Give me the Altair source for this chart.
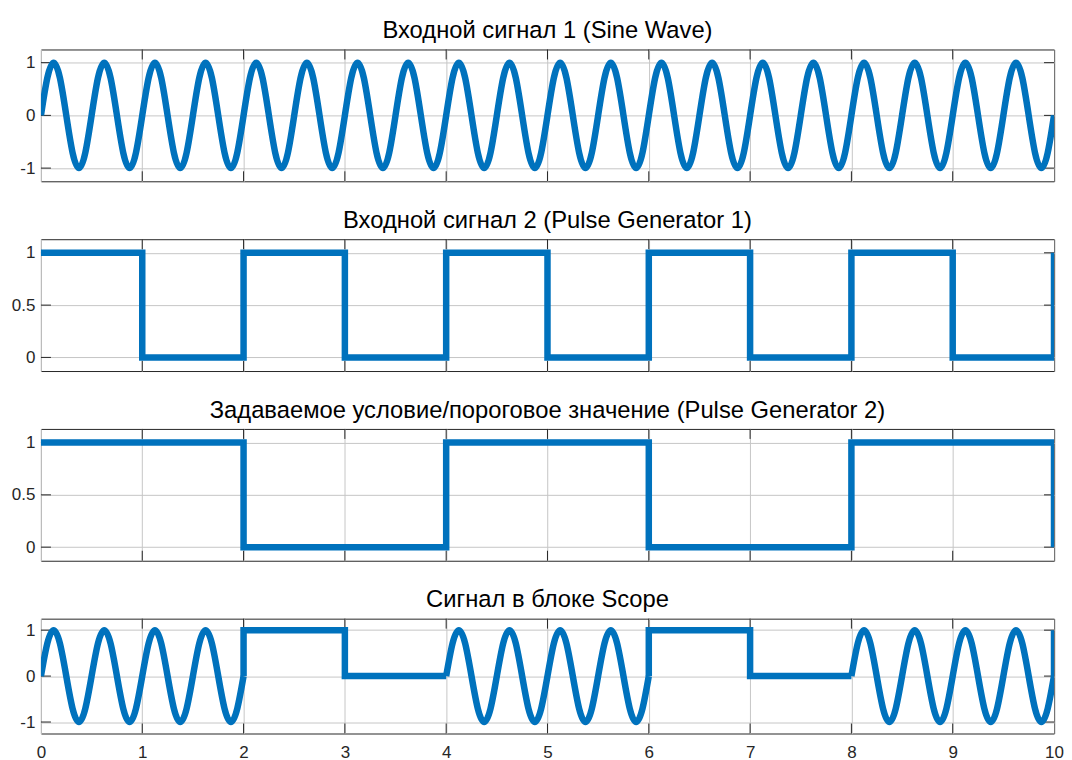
import altair as alt
import pandas as pd

# ---------------- data ----------------
# one period (0.5 s) of the sine wave, sampled every 1/16 s
SINE_ONE_PERIOD = [0.0, 0.71, 1.0, 0.71, 0.0, -0.71, -1.0, -0.71]
SINE_STEP = 0.0625
sine_t = [i * SINE_STEP for i in range(161)]
sine_v = SINE_ONE_PERIOD * 20 + [0.0]

pulse1_t = [0, 1, 1, 2, 2, 3, 3, 4, 4, 5, 5, 6, 6, 7, 7, 8, 8, 9, 9, 10, 10]
pulse1_v = [1, 1, 0, 0, 1, 1, 0, 0, 1, 1, 0, 0, 1, 1, 0, 0, 1, 1, 0, 0, 1]

pulse2_t = [0, 2, 2, 4, 4, 6, 6, 8, 8, 10, 10]
pulse2_v = [1, 1, 0, 0, 1, 1, 0, 0, 1, 1, 0]

scope_sine_ranges = [(0, 2), (4, 6), (8, 10)]
scope_step_t = [2, 2, 3, 3, 4, 6, 6, 7, 7, 8, 10, 10]
scope_step_v = [0, 1, 1, 0, 0, 0, 1, 1, 0, 0, 0, 1]
scope_step_seg = [0, 0, 0, 0, 0, 1, 1, 1, 1, 1, 2, 2]

x_ticks = list(range(11))
sine_ticks = [-1, 0, 1]
pulse_ticks = [0, 0.5, 1]

titles = [
    "Входной сигнал 1 (Sine Wave)",
    "Входной сигнал 2 (Pulse Generator 1)",
    "Задаваемое условие/пороговое значение (Pulse Generator 2)",
    "Сигнал в блоке Scope",
]

# ---------------- style ----------------
FONT = "Liberation Sans"
BLUE = "#0072BD"
GRID = "#c6c6c6"
DARK = "#262626"
W = 1014.5
LW = 6.5


def df_line(ts, vs, seg=None):
    d = pd.DataFrame({"t": ts, "v": vs})
    d["i"] = range(len(d))
    d["seg"] = seg if seg is not None else 0
    return d


def panel(lines, title, ydom, yticks, height, last):
    xaxis = alt.Axis(values=x_ticks, grid=True, gridColor=GRID, gridWidth=1,
                     ticks=False, domain=False, labels=last, labelFont=FONT,
                     labelFontSize=17, labelColor=DARK, labelPadding=11,
                     labelFlush=False, labelOverlap=False, title=None,
                     labelExpr="toString(datum.value)")
    yaxis = alt.Axis(values=yticks, grid=True, gridColor=GRID, gridWidth=1,
                     ticks=False, domain=False, labelFont=FONT, labelFontSize=17,
                     labelColor=DARK, labelPadding=6, title=None,
                     labelExpr="toString(datum.value)",
                     labelOverlap=False, labelFlush=False)
    x = alt.X("t:Q", scale=alt.Scale(domain=[0, 10], nice=False, zero=False), axis=xaxis)
    y = alt.Y("v:Q", scale=alt.Scale(domain=ydom, nice=False, zero=False), axis=yaxis)

    yt = pd.DataFrame({"v": yticks})
    xt = pd.DataFrame({"t": x_ticks[1:-1]})
    layers = [
        alt.Chart(yt).mark_rule(color=DARK, strokeWidth=1).encode(
            y=y, x=alt.value(0), x2=alt.value(10)),
        alt.Chart(yt).mark_rule(color=DARK, strokeWidth=1).encode(
            y=y, x=alt.value(W - 10), x2=alt.value(W)),
        alt.Chart(xt).mark_rule(color=DARK, strokeWidth=1).encode(
            x=x, y=alt.value(0), y2=alt.value(10)),
        alt.Chart(xt).mark_rule(color=DARK, strokeWidth=1).encode(
            x=x, y=alt.value(height - 10), y2=alt.value(height)),
    ]
    for d, interp in lines:
        layers.append(
            alt.Chart(d).mark_line(color=BLUE, strokeWidth=LW, clip=True,
                                   interpolate=interp, strokeJoin="miter",
                                   strokeCap="butt").encode(
                x=x, y=y, order="i:Q", detail="seg:N")
        )
    return alt.layer(*layers).properties(
        width=W, height=height,
        title=alt.TitleParams(title, font=FONT, fontSize=23.8, fontWeight="normal",
                              color="#000000", anchor="middle", offset=6),
    )


sine_df = df_line(sine_t, sine_v)
p1_df = df_line(pulse1_t, pulse1_v)
p2_df = df_line(pulse2_t, pulse2_v)

scope_parts = []
for k, (a, b) in enumerate(scope_sine_ranges):
    part = sine_df[(sine_df.t >= a) & (sine_df.t <= b)].copy()
    part["seg"] = k
    scope_parts.append(part)
scope_sine_df = pd.concat(scope_parts, ignore_index=True)
scope_sine_df["i"] = range(len(scope_sine_df))
scope_step_df = df_line(scope_step_t, scope_step_v, scope_step_seg)

SINE_DOM = [-1.25, 1.25]
PULSE_DOM = [-0.13, 1.13]

c1 = panel([(sine_df, "natural")], titles[0], SINE_DOM, sine_ticks, 132, False)
c2 = panel([(p1_df, "linear")], titles[1], PULSE_DOM, pulse_ticks, 132, False)
c3 = panel([(p2_df, "linear")], titles[2], PULSE_DOM, pulse_ticks, 132, False)
c4 = panel([(scope_sine_df, "natural"), (scope_step_df, "linear")], titles[3],
           SINE_DOM, sine_ticks, 115, True)

chart = alt.vconcat(c1, c2, c3, c4, spacing=26).properties(
    padding={"left": 2, "top": 10, "right": 0, "bottom": 0}
).configure_view(stroke=DARK, strokeWidth=1)

chart.save("out.html", embed_options={"renderer": "svg", "actions": False})
